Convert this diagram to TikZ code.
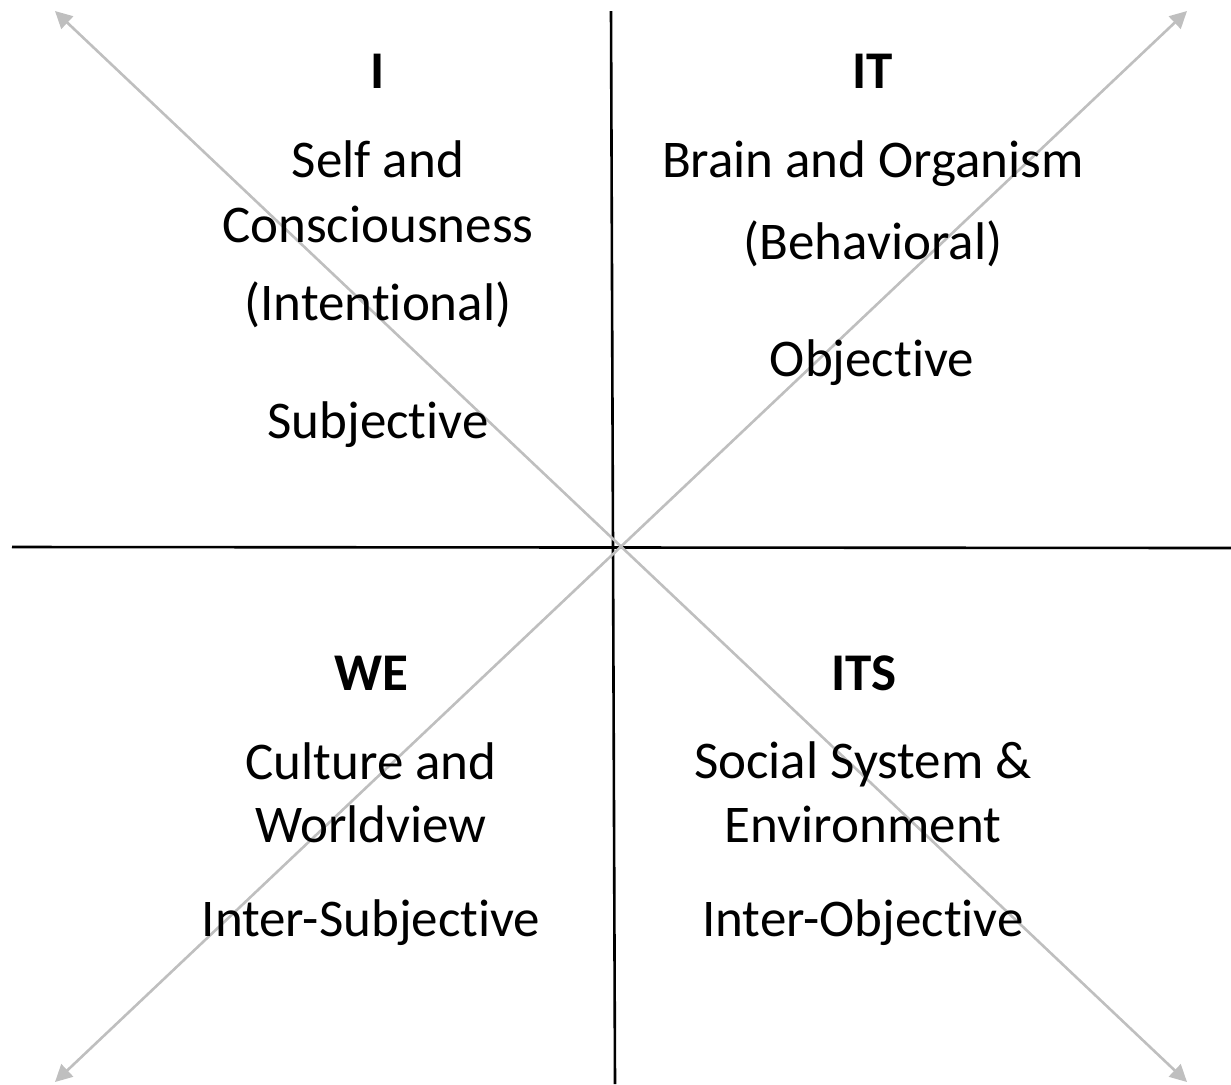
\documentclass[tikz,border=0pt]{standalone}
\usepackage{fontspec}
\setmainfont{Carlito}[Ligatures=NoCommon]
\usetikzlibrary{arrows.meta}

\begin{document}
\begin{tikzpicture}[x=0.5pt,y=-0.5pt,
    quad/.style={anchor=base, inner sep=0pt, font=\fontsize{26.5}{32}\selectfont},
    head/.style={quad, font=\fontsize{26.5}{32}\selectfont\bfseries},
    axis/.style={black, line width=1.3pt},
    diag/.style={draw=gray!50, line width=1.3pt,
      {Triangle[length=8.5pt,width=8.5pt]}-{Triangle[length=8.5pt,width=8.5pt]}}]
  \useasboundingbox (0,0) rectangle (1231,1084);

  % axes
  \coordinate (top) at (611,11);
  \coordinate (bot) at (615,1084);
  \coordinate (left) at (12,547);
  \coordinate (right) at (1231,548);
  \draw[axis] (top) -- (bot);
  \draw[axis] (left) -- (right);

  % diagonals
  \coordinate (nw) at (55,11);
  \coordinate (ne) at (1187,11);
  \coordinate (sw) at (55,1082);
  \coordinate (se) at (1187,1082);
  \draw[diag] (nw) -- (se);
  \draw[diag] (ne) -- (sw);

  % upper left
  \node[head] (i) at (378,88) {I};
  \node[quad] (i1) at (378,177) {Self and};
  \node[quad] (i2) at (378,242) {Consciousness};
  \node[quad] (i3) at (378,320) {(Intentional)};
  \node[quad] (i4) at (378,438) {Subjective};

  % upper right
  \node[head] (it) at (873,88) {IT};
  \node[quad] (it1) at (873,177) {Brain and Organism};
  \node[quad] (it2) at (873,259) {(Behavioral)};
  \node[quad] (it3) at (872,376) {Objective};

  % lower left
  \node[head] (we) at (371,690) {WE};
  \node[quad] (we1) at (371,779) {Culture and};
  \node[quad] (we2) at (371,842) {Worldview};
  \node[quad] (we3) at (371,936) {Inter-Subjective};

  % lower right
  \node[head] (its) at (864,690) {ITS};
  \node[quad] (its1) at (863,778) {Social System \&};
  \node[quad] (its2) at (863,842) {Environment};
  \node[quad] (its3) at (863,936) {Inter-Objective};
\end{tikzpicture}
\end{document}
